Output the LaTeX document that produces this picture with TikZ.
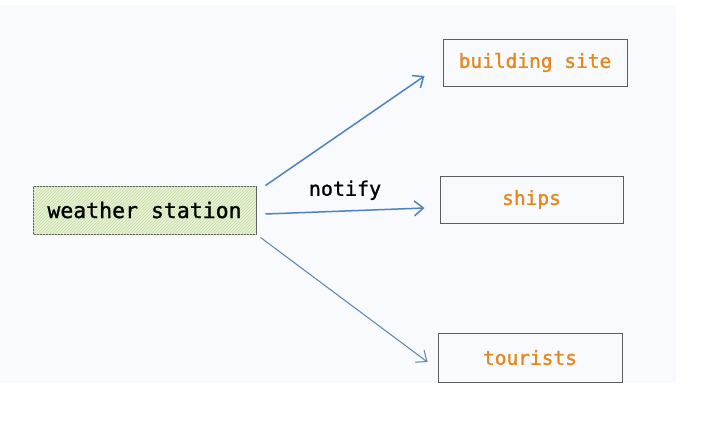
\documentclass[tikz,border=0pt]{standalone}
\usepackage{fontspec}
\setmonofont{DejaVu Sans Mono}
\newfontfamily\medmono[FakeBold=1.2]{DejaVu Sans Mono}
\usetikzlibrary{arrows.meta,patterns}
\definecolor{paper}{RGB}{248,250,253}
\definecolor{boxline}{RGB}{90,93,100}
\definecolor{hatchgreen}{RGB}{232,242,216}
\definecolor{linegreen}{RGB}{196,220,160}
\definecolor{subtext}{RGB}{226,136,28}
\definecolor{wire}{RGB}{78,130,192}
\begin{document}
\begin{tikzpicture}[x=1pt,y=-1pt]
        \useasboundingbox (0,0) rectangle (704,439);
        \fill[paper] (0,5) rectangle (676,383);
        \tikzstyle{every node}=[draw=boxline, line width=1pt, font=\medmono\fontsize{19.5}{22}\selectfont, minimum height=47pt]
        \node[fill=hatchgreen, postaction={pattern=north east lines, pattern color=linegreen},
              minimum width=223pt, minimum height=48pt, font=\medmono\fontsize{21.5}{24}\selectfont]
                                   (station)  at (144.5, 210)   {weather station};
        \node[text=subtext, minimum width=184pt]   (site)     at (535, 62.5)    {building site};
        \node[text=subtext, minimum width=183pt]   (ships)    at (531.5, 199.5) {ships};
        \node[text=subtext, minimum width=184pt, minimum height=49pt]
                                   (tourists) at (530, 357.5)   {tourists};
        \tikzstyle{every node}=[text=black, font=\medmono\fontsize{20}{22}\selectfont]
        \tikzset{>={Straight Barb[length=9pt,width=15pt]}}
        \draw[->, wire, line width=1.5pt] ([shift={(9,0)}]station.north east) -- ([shift={(-18,13.5)}]site.west);
        \draw[->, wire, line width=1.5pt] ([shift={(9,4)}]station.east) -- ([shift={(-15,8.5)}]ships.west)
              node[above=7pt, pos=0.5] {notify};
        \draw[->, wire!80!gray, line width=1pt] ([shift={(4,3)}]station.south east) -- ([shift={(-10,4.5)}]tourists.west);
    \end{tikzpicture}
\end{document}
